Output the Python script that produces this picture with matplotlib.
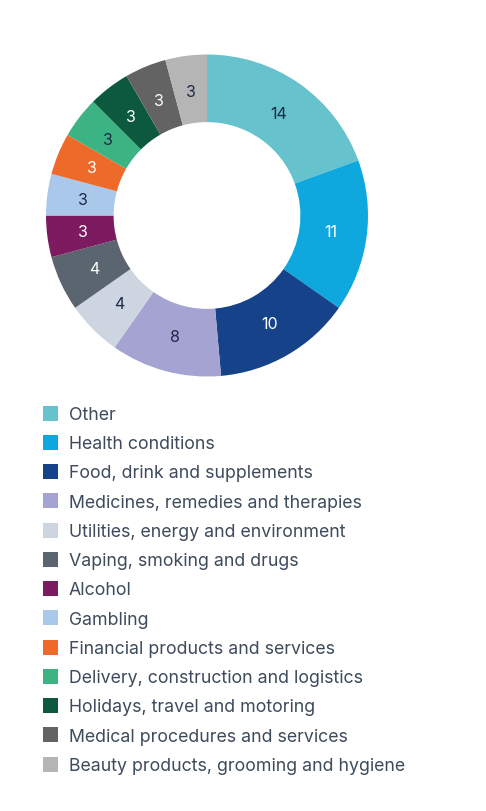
import matplotlib
matplotlib.use("Agg")
import matplotlib.pyplot as plt
from matplotlib.patches import Rectangle

categories = [
    "Other",
    "Health conditions",
    "Food, drink and supplements",
    "Medicines, remedies and therapies",
    "Utilities, energy and environment",
    "Vaping, smoking and drugs",
    "Alcohol",
    "Gambling",
    "Financial products and services",
    "Delivery, construction and logistics",
    "Holidays, travel and motoring",
    "Medical procedures and services",
    "Beauty products, grooming and hygiene",
]
values = [14, 11, 10, 8, 4, 4, 3, 3, 3, 3, 3, 3, 3]
colors = ["#66c2cc", "#0ea8df", "#16428a", "#a5a3d1", "#cdd5e0", "#5a6570",
          "#7c1b5f", "#a9c8ea", "#ee6a2b", "#3bb383", "#0d5940", "#636363", "#b5b5b5"]
label_colors = ["#1e2a47", "white", "white", "#1e2a47", "#1e2a47", "white",
                "white", "#1e2a47", "white", "#1e2a47", "white", "white", "#1e2a47"]

FONT = "Inter"
W, H = 486, 812
fig = plt.figure(figsize=(W / 100, H / 100), dpi=100)
fig.patch.set_facecolor("white")

cx, cy, r = 207, 216.5, 161
ax = fig.add_axes([(cx - r) / W, 1 - (cy + r) / H, 2 * r / W, 2 * r / H])
wedges, texts = ax.pie(values, colors=colors, startangle=90, counterclock=False,
                       radius=1, wedgeprops=dict(width=0.42, linewidth=0),
                       labels=[str(v) for v in values], labeldistance=0.775,
                       textprops=dict(fontsize=11.5, family=FONT))
for t, c in zip(texts, label_colors):
    t.set_color(c)
    t.set_ha("center")
    t.set_va("center")
ax.set_xlim(-1, 1)
ax.set_ylim(-1, 1)
ax.axis("off")

# legend
y0, dy = 415.5, 29.25
sq = 15
fs = 12.0
txts = []
for i, (lab, col) in enumerate(zip(categories, colors)):
    y = y0 + i * dy
    fig.patches.append(Rectangle((43 / W, 1 - (y - 1.5 + sq / 2) / H), sq / W, sq / H,
                                 transform=fig.transFigure, facecolor=col,
                                 edgecolor="none"))
    txts.append(fig.text(69 / W, 1 - y / H, lab, fontsize=fs, family=FONT,
                         color="#3d4b5c", va="center", ha="left"))

# fit longest label width to the reference (~336 px)
fig.canvas.draw()
rend = fig.canvas.get_renderer()
wmax = max(t.get_window_extent(rend).width for t in txts)
scale = 336 / wmax
for t in txts:
    t.set_fontsize(fs * scale)

fig.savefig("out.png", dpi=100, facecolor="white")
